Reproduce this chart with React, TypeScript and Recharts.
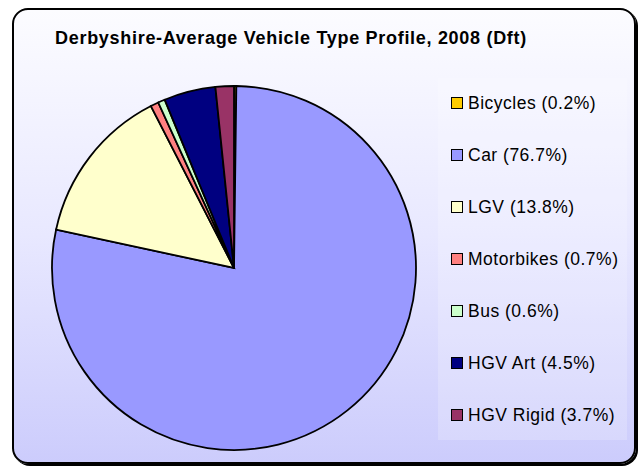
import { PieChart, Pie, Cell } from 'recharts';

// slice order clockwise from 12 o'clock
const vehicleTypes = ['Bicycles', 'Car', 'LGV', 'Motorbikes', 'Bus', 'HGV Art', 'HGV Rigid'];
// percentages as printed in the legend
const legendPercent = ['0.2%', '76.7%', '13.8%', '0.7%', '0.6%', '4.5%', '3.7%'];
// slice sizes as drawn
const sliceValues = [0.2, 76.7, 13.8, 0.7, 0.6, 4.5, 1.6];
const sliceColors = ['#ffcc00', '#9999ff', '#ffffcc', '#ff8080', '#ccffcc', '#000080', '#993366'];

const data = vehicleTypes.map((name, i) => ({ name, value: sliceValues[i] }));

const FONT = '"Liberation Sans", Arial, sans-serif';

export default function App() {
  return (
    <div style={{ position: 'absolute', left: 0, top: 0, width: 642, height: 468, background: '#fff', fontFamily: FONT }}>
      <div
        style={{
          position: 'absolute',
          left: 12,
          top: 8,
          width: 624,
          height: 456,
          border: '2px solid #000',
          borderRadius: 16,
          boxShadow: '2px 2px 0 #000',
          background: 'linear-gradient(to bottom, #fcfcff 0%, #e8e8ff 50%, #ccccfc 100%)',
          boxSizing: 'border-box',
        }}
      />
      <div
        style={{
          position: 'absolute',
          left: 0,
          width: 582,
          top: 28,
          textAlign: 'center',
          fontWeight: 'bold',
          fontSize: 18,
          letterSpacing: 0.7,
          color: '#000',
        }}
      >
        Derbyshire-Average Vehicle Type Profile, 2008 (Dft)
      </div>
      <div style={{ position: 'absolute', left: 0, top: 0 }}>
        <PieChart width={642} height={468} margin={{ top: 0, right: 0, bottom: 0, left: 0 }}>
          <Pie
            data={data}
            dataKey="value"
            nameKey="name"
            cx={234}
            cy={268}
            outerRadius={182}
            startAngle={90}
            endAngle={-270}
            stroke="#000"
            strokeWidth={1.8}
            isAnimationActive={false}
          >
            {data.map((d, i) => (
              <Cell key={d.name} fill={sliceColors[i]} />
            ))}
          </Pie>
        </PieChart>
      </div>
      <div
        style={{
          position: 'absolute',
          left: 438,
          top: 78,
          width: 189,
          height: 362,
          background: 'rgba(255,255,255,0.2)',
        }}
      >
        {vehicleTypes.map((name, i) => (
          <div
            key={name}
            style={{
              position: 'absolute',
              left: 13,
              top: 15 + i * 52,
              height: 20,
              display: 'flex',
              alignItems: 'center',
              whiteSpace: 'nowrap',
              fontSize: 17.5,
              letterSpacing: 0.5,
              color: '#000',
            }}
          >
            <span
              style={{
                display: 'inline-block',
                width: 10,
                height: 10,
                background: sliceColors[i],
                border: '1px solid #000',
                marginRight: 5,
              }}
            />
            {`${name} (${legendPercent[i]})`}
          </div>
        ))}
      </div>
    </div>
  );
}
